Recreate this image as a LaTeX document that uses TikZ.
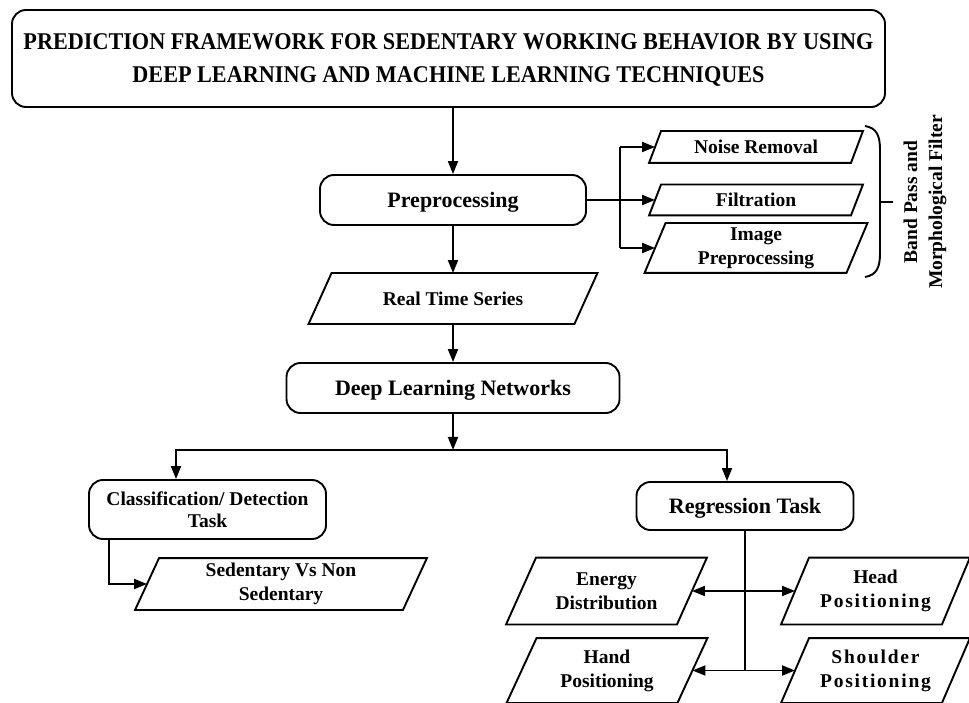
\documentclass[tikz,border=0pt]{standalone}
\usepackage{fontspec}
\setmainfont{Liberation Serif}
\usetikzlibrary{arrows.meta,calc}
\newcommand\pgram[2]{%
  \draw ($(#1.north west)+(#2,0)$) -- ($(#1.north east)+(#2,0)$) --
        ($(#1.south east)-(#2,0)$) -- ($(#1.south west)-(#2,0)$) -- cycle;}
\newcommand\wide[1]{{\addfontfeature{LetterSpace=9}#1}}
\begin{document}
\begin{tikzpicture}[x=1pt,y=-1pt,
  line width=1.9pt,
  >={Triangle[length=13pt,width=10pt]},
  rbox/.style={draw, rounded corners=14pt, align=center, inner sep=0pt,
     text depth=0pt, font=\bfseries\fontsize{22}{23}\selectfont},
  ptext/.style={align=center, inner sep=0pt,
     font=\bfseries\fontsize{19.5}{24}\selectfont},
]
\useasboundingbox (0,0) rectangle (969,703);

% title
\node[rbox, minimum width=873pt, minimum height=97pt,
      font=\bfseries\fontsize{24}{33}\selectfont] (title) at (448.5,58.5)
  {\scalebox{0.925}[1]{PREDICTION FRAMEWORK FOR SEDENTARY WORKING BEHAVIOR BY USING}\\
   \scalebox{0.925}[1]{DEEP LEARNING AND MACHINE LEARNING TECHNIQUES}};

% main boxes
\node[rbox, minimum width=266pt, minimum height=50pt] (pre) at (453,200) {Preprocessing};
\node[ptext, minimum width=264pt, minimum height=49pt] (rts) at (453,298.5) {Real Time Series};
\node[rbox, minimum width=333pt, minimum height=50pt] (dln) at (453,388) {Deep Learning Networks};
\node[rbox, minimum width=237pt, minimum height=59pt,
      font=\bfseries\fontsize{19.5}{22}\selectfont] (cls) at (207.5,509.5) {Classification/ Detection\\Task};
\node[rbox, minimum width=217pt, minimum height=48pt] (reg) at (745,506) {Regression Task};

% parallelogram nodes
\node[ptext, minimum width=200pt, minimum height=30pt] (noise) at (756,147) {Noise Removal};
\node[ptext, minimum width=200pt, minimum height=29pt] (filt) at (756,200) {Filtration};
\node[ptext, minimum width=200pt, minimum height=48pt] (img) at (756,248) {Image\\Preprocessing};
\node[ptext, minimum width=266pt, minimum height=50pt] (sed) at (281,584) {Sedentary Vs Non\\Sedentary};
\node[ptext, minimum width=169pt, minimum height=65pt] (energy) at (606.5,591) {Energy\\Distribution};
\node[ptext, minimum width=159pt, minimum height=65pt] (head) at (875.5,591) {Head\\\wide{Positioning}};
\node[ptext, minimum width=169pt, minimum height=63pt] (hand) at (607,670.5) {Hand\\Positioning};
\node[ptext, minimum width=159pt, minimum height=63pt] (shoulder) at (875.5,670.5) {\wide{Shoulder}\\\wide{Positioning}};

\pgram{rts}{11.5}
\pgram{noise}{6}
\pgram{filt}{6}
\pgram{img}{10.5}
\pgram{sed}{12}
\pgram{energy}{15}
\pgram{head}{14}
\pgram{hand}{15}
\pgram{shoulder}{14}

% brace and label
\draw (865,126) .. controls (877,128) and (880,136) .. (880,150) -- (880,253)
      .. controls (880,267) and (877,275) .. (865,277);
\draw (880,202) -- (893,202);
\node[rotate=90, align=center, inner sep=0pt,
      font=\bfseries\fontsize{19.5}{25}\selectfont] (bp) at (925,202)
  {Band Pass and\\Morphological Filter};

% connectors
\draw[->] (title.south -| pre.north) -- (pre.north);
\coordinate (sp) at ($(pre.east)+(33,0)$);
\draw (pre.east) -- (sp);
\draw (sp |- noise.west) -- (sp |- img.west);
\draw[->] (sp |- noise.west) -- (noise.west);
\draw[->] (sp) -- (filt.west);
\draw[->] (sp |- img.west) -- (img.west);
\draw[->] (pre.south) -- (rts.north);
\draw[->] (rts.south) -- (dln.north);
\coordinate (br) at ($(dln.south)+(0,36)$);
\draw[->] (dln.south) -- (br);
\coordinate (clsin) at ($(cls.north)+(-31.5,0)$);
\coordinate (regin) at ($(reg.north)+(-18,0)$);
\draw[->] (br) -| (clsin);
\draw[->] (br) -| (regin);
\coordinate (clsout) at ($(cls.south)+(-98.5,0)$);
\draw[->] (clsout) |- (sed.west);
\draw (reg.south) -- (reg.south |- hand.east);
\draw[<->] (energy.east) -- (head.west);
\draw[<->] (hand.east) -- (shoulder.west);
\end{tikzpicture}
\end{document}
